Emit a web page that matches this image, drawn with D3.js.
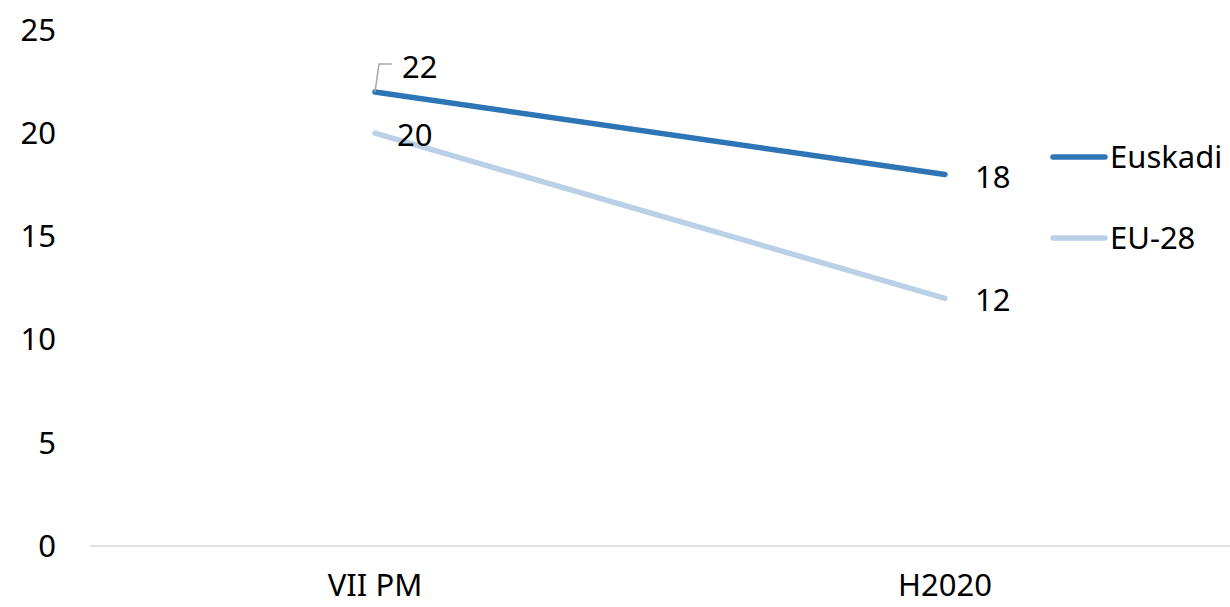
<!DOCTYPE html>
<html>
<head>
<meta charset="utf-8">
<script src="https://cdn.jsdelivr.net/npm/d3@7"></script>
<style>
  body { margin: 0; background: #fff; }
  text { font-family: "Noto Sans", "Open Sans", sans-serif; fill: #000; }
</style>
</head>
<body>
<svg id="chart" width="1230" height="607"></svg>
<script>
var categories = ["VII PM", "H2020"],
    euskadi = [22, 18],
    eu28 = [20, 12],
    yTicks = [0, 5, 10, 15, 20, 25];

var series = [
    { name: "Euskadi", values: euskadi, color: "#2E75B6" },
    { name: "EU-28", values: eu28, color: "#B9D0E6" }
];

var svg = d3.select("#chart"),
    fontSize = 31;

var x = d3.scalePoint().domain(categories).range([90, 1230]).padding(0.5),
    y = d3.scaleLinear().domain([0, 25]).range([546, 30]);

// baseline
svg.append("line")
    .attr("x1", 90).attr("x2", 1230)
    .attr("y1", y(0)).attr("y2", y(0))
    .attr("stroke", "#d9d9d9").attr("stroke-width", 1.5);

// y tick labels
svg.selectAll(".ytick")
    .data(yTicks)
    .enter().append("text")
        .attr("class", "ytick")
        .attr("x", 56)
        .attr("y", function (d) { return y(d); })
        .attr("dy", "0.35em")
        .attr("text-anchor", "end")
        .style("font-size", fontSize + "px")
        .text(function (d) { return d; });

// x labels
svg.selectAll(".xtick")
    .data(categories)
    .enter().append("text")
        .attr("class", "xtick")
        .attr("x", function (d) { return x(d); })
        .attr("y", 585)
        .attr("dy", "0.35em")
        .attr("text-anchor", "middle")
        .style("font-size", fontSize + "px")
        .text(function (d) { return d; });

var line = d3.line()
    .x(function (d, i) { return x(categories[i]); })
    .y(function (d) { return y(d); });

// draw light series first so Euskadi is on top
svg.selectAll(".series")
    .data(series.slice().reverse())
    .enter().append("path")
        .attr("class", "series")
        .attr("d", function (s) { return line(s.values); })
        .attr("fill", "none")
        .attr("stroke", function (s) { return s.color; })
        .attr("stroke-width", 5.5)
        .attr("stroke-linecap", "round");

// leader line for the first Euskadi label
var p0 = [x(categories[0]), y(euskadi[0])];
svg.append("path")
    .attr("d", "M" + p0[0] + "," + p0[1] + "L" + (p0[0] + 4) + "," + (p0[1] - 28) + "L" + (p0[0] + 17) + "," + (p0[1] - 28))
    .attr("fill", "none")
    .attr("stroke", "#a6a6a6")
    .attr("stroke-width", 1.5);

// data labels
svg.append("text")
    .attr("x", p0[0] + 27).attr("y", p0[1] - 25)
    .attr("dy", "0.35em")
    .style("font-size", fontSize + "px")
    .text(euskadi[0]);

svg.append("text")
    .attr("x", x(categories[0]) + 22).attr("y", y(eu28[0]) + 2)
    .attr("dy", "0.35em")
    .style("font-size", fontSize + "px")
    .text(eu28[0]);

svg.append("text")
    .attr("x", x(categories[1]) + 30).attr("y", y(euskadi[1]) + 3)
    .attr("dy", "0.35em")
    .style("font-size", fontSize + "px")
    .text(euskadi[1]);

svg.append("text")
    .attr("x", x(categories[1]) + 30).attr("y", y(eu28[1]) + 2)
    .attr("dy", "0.35em")
    .style("font-size", fontSize + "px")
    .text(eu28[1]);

// legend
var legend = svg.selectAll(".legend")
    .data(series)
    .enter().append("g")
        .attr("class", "legend")
        .attr("transform", function (d, i) { return "translate(1053," + (157 + i * 81) + ")"; });

legend.append("line")
    .attr("x1", 0).attr("x2", 52)
    .attr("stroke", function (d) { return d.color; })
    .attr("stroke-width", 5.5)
    .attr("stroke-linecap", "round");

legend.append("text")
    .attr("x", 57)
    .attr("dy", "0.35em")
    .style("font-size", fontSize + "px")
    .text(function (d) { return d.name; });
</script>
</body>
</html>
